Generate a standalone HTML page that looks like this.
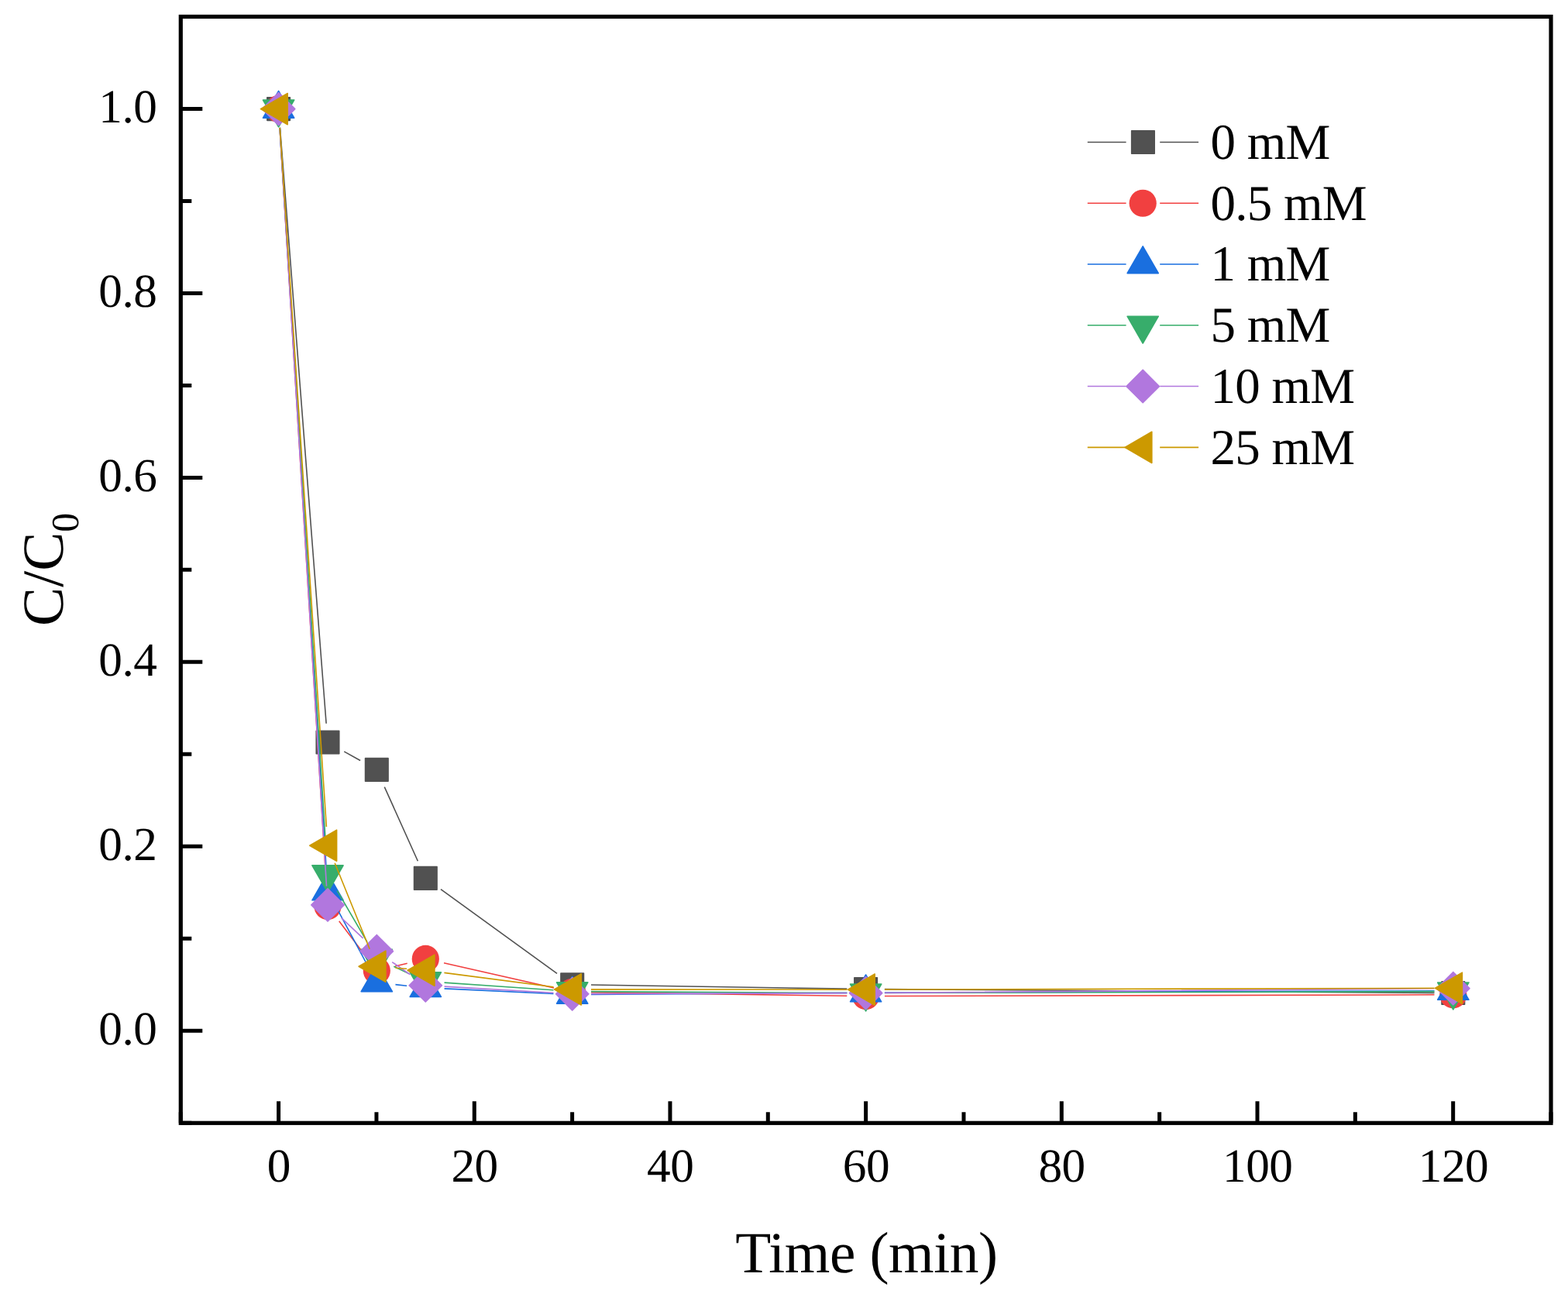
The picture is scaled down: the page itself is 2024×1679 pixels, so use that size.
<!DOCTYPE html>
<html lang="en"><head><meta charset="utf-8"><title>C/C0 vs Time</title>
<style>html,body{margin:0;padding:0;background:#fff;}body{width:2024px;height:1679px;overflow:hidden;}svg{display:block;}text{font-family:'Liberation Serif','Times New Roman',Times,serif;fill:#000;text-rendering:geometricPrecision;}</style>
</head><body>
<svg width="2024" height="1679" viewBox="0 0 2024 1679">
<rect x="0" y="0" width="2024" height="1679" fill="#ffffff"/>
<g id="series" fill="none">
<g>
<path d="M361.48 164.83L421.12 933.77M444.21 969.86L465.09 981.54M496.27 1015.56L539.33 1111.24M568.97 1147.66L719.03 1256.44M763 1271.07L1093.3 1276.13M1141.9 1276.66L1851.5 1281.34" stroke="#515151" stroke-width="1.6" fill="none"/>
<rect x="344.85" y="125.85" width="29.5" height="29.5" fill="#515151" stroke="#515151" stroke-width="1.6" stroke-linejoin="round"/>
<rect x="408.25" y="943.25" width="29.5" height="29.5" fill="#515151" stroke="#515151" stroke-width="1.6" stroke-linejoin="round"/>
<rect x="471.55" y="978.65" width="29.5" height="29.5" fill="#515151" stroke="#515151" stroke-width="1.6" stroke-linejoin="round"/>
<rect x="534.55" y="1118.65" width="29.5" height="29.5" fill="#515151" stroke="#515151" stroke-width="1.6" stroke-linejoin="round"/>
<rect x="723.95" y="1255.95" width="29.5" height="29.5" fill="#515151" stroke="#515151" stroke-width="1.6" stroke-linejoin="round"/>
<rect x="1102.85" y="1261.75" width="29.5" height="29.5" fill="#515151" stroke="#515151" stroke-width="1.6" stroke-linejoin="round"/>
<rect x="1861.05" y="1266.75" width="29.5" height="29.5" fill="#515151" stroke="#515151" stroke-width="1.6" stroke-linejoin="round"/>
</g>
<g>
<path d="M361.09 164.85L421.51 1145.25M437.7 1188.85L471.6 1233.45M509.9 1247.03L525.7 1243.17M573 1242.77L715 1274.93M763 1280.64L1093.3 1285.26M1141.9 1285.54L1851.5 1283.76" stroke="#F14040" stroke-width="1.6" fill="none"/>
<circle cx="359.6" cy="140.6" r="17.6" fill="#F14040"/>
<circle cx="423" cy="1169.5" r="17.6" fill="#F14040"/>
<circle cx="486.3" cy="1252.8" r="17.6" fill="#F14040"/>
<circle cx="549.3" cy="1237.4" r="17.6" fill="#F14040"/>
<circle cx="738.7" cy="1280.3" r="17.6" fill="#F14040"/>
<circle cx="1117.6" cy="1285.6" r="17.6" fill="#F14040"/>
<circle cx="1875.8" cy="1283.7" r="17.6" fill="#F14040"/>
</g>
<g>
<path d="M361.12 164.85L421.48 1125.95M434.49 1171.61L474.81 1246.69M510.46 1270.67L525.14 1272.23M573.57 1275.92L714.43 1282.43M763 1283.4L1093.3 1281.35M1141.9 1281.12L1851.5 1278.68" stroke="#1A6FDF" stroke-width="1.6" fill="none"/>
<polygon points="359.6,117.4 379.69,152.2 339.51,152.2" fill="#1A6FDF" stroke="#1A6FDF" stroke-width="1.6" stroke-linejoin="round"/>
<polygon points="423,1127 443.09,1161.8 402.91,1161.8" fill="#1A6FDF" stroke="#1A6FDF" stroke-width="1.6" stroke-linejoin="round"/>
<polygon points="486.3,1244.9 506.39,1279.7 466.21,1279.7" fill="#1A6FDF" stroke="#1A6FDF" stroke-width="1.6" stroke-linejoin="round"/>
<polygon points="549.3,1251.6 569.39,1286.4 529.21,1286.4" fill="#1A6FDF" stroke="#1A6FDF" stroke-width="1.6" stroke-linejoin="round"/>
<polygon points="738.7,1260.35 758.79,1295.15 718.61,1295.15" fill="#1A6FDF" stroke="#1A6FDF" stroke-width="1.6" stroke-linejoin="round"/>
<polygon points="1117.6,1258 1137.69,1292.8 1097.51,1292.8" fill="#1A6FDF" stroke="#1A6FDF" stroke-width="1.6" stroke-linejoin="round"/>
<polygon points="1875.8,1255.4 1895.89,1290.2 1855.71,1290.2" fill="#1A6FDF" stroke="#1A6FDF" stroke-width="1.6" stroke-linejoin="round"/>
</g>
<g>
<path d="M361.16 164.85L421.44 1104.25M435.25 1149.48L474.05 1215.92M508.29 1247.23L527.31 1256.17M573.54 1268.16L714.46 1277.79M763 1279.59L1093.3 1281.46M1141.9 1281.54L1851.5 1279.66" stroke="#37AD6B" stroke-width="1.6" fill="none"/>
<polygon points="359.6,163.8 379.69,129 339.51,129" fill="#37AD6B" stroke="#37AD6B" stroke-width="1.6" stroke-linejoin="round"/>
<polygon points="423,1151.7 443.09,1116.9 402.91,1116.9" fill="#37AD6B" stroke="#37AD6B" stroke-width="1.6" stroke-linejoin="round"/>
<polygon points="486.3,1260.1 506.39,1225.3 466.21,1225.3" fill="#37AD6B" stroke="#37AD6B" stroke-width="1.6" stroke-linejoin="round"/>
<polygon points="549.3,1289.7 569.39,1254.9 529.21,1254.9" fill="#37AD6B" stroke="#37AD6B" stroke-width="1.6" stroke-linejoin="round"/>
<polygon points="738.7,1302.65 758.79,1267.85 718.61,1267.85" fill="#37AD6B" stroke="#37AD6B" stroke-width="1.6" stroke-linejoin="round"/>
<polygon points="1117.6,1304.8 1137.69,1270 1097.51,1270" fill="#37AD6B" stroke="#37AD6B" stroke-width="1.6" stroke-linejoin="round"/>
<polygon points="1875.8,1302.8 1895.89,1268 1855.71,1268" fill="#37AD6B" stroke="#37AD6B" stroke-width="1.6" stroke-linejoin="round"/>
</g>
<g>
<path d="M361.1 164.85L421.5 1143.65M440.68 1184.57L468.62 1210.93M506.21 1241.54L529.39 1257.76M573.56 1273.11L714.44 1281.29M763 1282.63L1093.3 1281.67M1141.9 1281.41L1851.5 1275.79" stroke="#B177DE" stroke-width="1.6" fill="none"/>
<polygon points="359.6,119.45 380.75,140.6 359.6,161.75 338.45,140.6" fill="#B177DE" stroke="#B177DE" stroke-width="1.6" stroke-linejoin="round"/>
<polygon points="423,1146.75 444.15,1167.9 423,1189.05 401.85,1167.9" fill="#B177DE" stroke="#B177DE" stroke-width="1.6" stroke-linejoin="round"/>
<polygon points="486.3,1206.45 507.45,1227.6 486.3,1248.75 465.15,1227.6" fill="#B177DE" stroke="#B177DE" stroke-width="1.6" stroke-linejoin="round"/>
<polygon points="549.3,1250.55 570.45,1271.7 549.3,1292.85 528.15,1271.7" fill="#B177DE" stroke="#B177DE" stroke-width="1.6" stroke-linejoin="round"/>
<polygon points="738.7,1261.55 759.85,1282.7 738.7,1303.85 717.55,1282.7" fill="#B177DE" stroke="#B177DE" stroke-width="1.6" stroke-linejoin="round"/>
<polygon points="1117.6,1260.45 1138.75,1281.6 1117.6,1302.75 1096.45,1281.6" fill="#B177DE" stroke="#B177DE" stroke-width="1.6" stroke-linejoin="round"/>
<polygon points="1875.8,1254.45 1896.95,1275.6 1875.8,1296.75 1854.65,1275.6" fill="#B177DE" stroke="#B177DE" stroke-width="1.6" stroke-linejoin="round"/>
</g>
<g>
<path d="M361.22 164.85L421.38 1066.95M432.13 1113.72L477.17 1224.78M510.53 1249.18L525.07 1250.32M573.4 1255.34L714.6 1273.76M763 1276.91L1093.3 1277.09M1141.9 1277.04L1851.5 1275.26" stroke="#CC9900" stroke-width="1.6" fill="none"/>
<polygon points="336.4,140.6 371.2,120.51 371.2,160.69" fill="#CC9900" stroke="#CC9900" stroke-width="1.6" stroke-linejoin="round"/>
<polygon points="399.8,1091.2 434.6,1071.11 434.6,1111.29" fill="#CC9900" stroke="#CC9900" stroke-width="1.6" stroke-linejoin="round"/>
<polygon points="463.1,1247.3 497.9,1227.21 497.9,1267.39" fill="#CC9900" stroke="#CC9900" stroke-width="1.6" stroke-linejoin="round"/>
<polygon points="526.1,1252.2 560.9,1232.11 560.9,1272.29" fill="#CC9900" stroke="#CC9900" stroke-width="1.6" stroke-linejoin="round"/>
<polygon points="715.5,1276.9 750.3,1256.81 750.3,1296.99" fill="#CC9900" stroke="#CC9900" stroke-width="1.6" stroke-linejoin="round"/>
<polygon points="1094.4,1277.1 1129.2,1257.01 1129.2,1297.19" fill="#CC9900" stroke="#CC9900" stroke-width="1.6" stroke-linejoin="round"/>
<polygon points="1852.6,1275.2 1887.4,1255.11 1887.4,1295.29" fill="#CC9900" stroke="#CC9900" stroke-width="1.6" stroke-linejoin="round"/>
</g>
</g>
<g id="axes" stroke="#000" fill="none" stroke-linecap="butt">
<rect x="233.3" y="21.5" width="1768.7" height="1427.8" stroke-width="5.2"/>
<path d="M359.6 1449.3V1421.3M612.28 1449.3V1421.3M864.96 1449.3V1421.3M1117.64 1449.3V1421.3M1370.32 1449.3V1421.3M1623 1449.3V1421.3M1875.68 1449.3V1421.3M233.26 1449.3V1435.3M485.94 1449.3V1435.3M738.62 1449.3V1435.3M991.3 1449.3V1435.3M1243.98 1449.3V1435.3M1496.66 1449.3V1435.3M1749.34 1449.3V1435.3M2002.02 1449.3V1435.3M233.3 1330.2H261.3M233.3 1092.26H261.3M233.3 854.32H261.3M233.3 616.38H261.3M233.3 378.44H261.3M233.3 140.5H261.3M233.3 1449.17H247.3M233.3 1211.23H247.3M233.3 973.29H247.3M233.3 735.35H247.3M233.3 497.41H247.3M233.3 259.47H247.3M233.3 21.53H247.3" stroke-width="5.0"/>
</g>
<g id="xticklabels" font-size="61.3" letter-spacing="-0.5" text-anchor="middle">
<text x="359.9" y="1524.8">0</text>
<text x="612.58" y="1524.8">20</text>
<text x="865.26" y="1524.8">40</text>
<text x="1117.94" y="1524.8">60</text>
<text x="1370.62" y="1524.8">80</text>
<text x="1623.3" y="1524.8">100</text>
<text x="1875.98" y="1524.8">120</text>
</g>
<g id="yticklabels" font-size="61.3" letter-spacing="-0.5" text-anchor="end">
<text x="202.4" y="1347.9">0.0</text>
<text x="202.4" y="1109.96">0.2</text>
<text x="202.4" y="872.02">0.4</text>
<text x="202.4" y="634.08">0.6</text>
<text x="202.4" y="396.14">0.8</text>
<text x="202.4" y="158.2">1.0</text>
</g>
<text id="xtitle" x="1118.5" y="1642" font-size="75.3" letter-spacing="-0.4" text-anchor="middle">Time (min)</text>
<text id="ytitle" transform="translate(81 808) rotate(-90)" font-size="75.3">C/C<tspan dy="20" font-size="50">0</tspan></text>
<g id="legend">
<path d="M1403.8 183.45H1453.6M1497.2 183.45H1547.1" stroke="#515151" stroke-width="1.6" fill="none"/>
<rect x="1460.7" y="168.7" width="29.5" height="29.5" fill="#515151" stroke="#515151" stroke-width="1.6" stroke-linejoin="round"/>
<text x="1562.5" y="204.75" font-size="65" letter-spacing="-0.75">0 mM</text>
<path d="M1403.8 262.23H1453.6M1497.2 262.23H1547.1" stroke="#F14040" stroke-width="1.6" fill="none"/>
<circle cx="1475.2" cy="262.23" r="17.6" fill="#F14040"/>
<text x="1562.5" y="283.53" font-size="65" letter-spacing="-0.75">0.5 mM</text>
<path d="M1403.8 341.01H1453.6M1497.2 341.01H1547.1" stroke="#1A6FDF" stroke-width="1.6" fill="none"/>
<polygon points="1475.2,317.81 1495.29,352.61 1455.11,352.61" fill="#1A6FDF" stroke="#1A6FDF" stroke-width="1.6" stroke-linejoin="round"/>
<text x="1562.5" y="362.31" font-size="65" letter-spacing="-0.75">1 mM</text>
<path d="M1403.8 419.79H1453.6M1497.2 419.79H1547.1" stroke="#37AD6B" stroke-width="1.6" fill="none"/>
<polygon points="1475.2,442.99 1495.29,408.19 1455.11,408.19" fill="#37AD6B" stroke="#37AD6B" stroke-width="1.6" stroke-linejoin="round"/>
<text x="1562.5" y="441.09" font-size="65" letter-spacing="-0.75">5 mM</text>
<path d="M1403.8 498.57H1453.6M1497.2 498.57H1547.1" stroke="#B177DE" stroke-width="1.6" fill="none"/>
<polygon points="1475.2,477.42 1496.35,498.57 1475.2,519.72 1454.05,498.57" fill="#B177DE" stroke="#B177DE" stroke-width="1.6" stroke-linejoin="round"/>
<text x="1562.5" y="519.87" font-size="65" letter-spacing="-0.75">10 mM</text>
<path d="M1403.8 577.35H1453.6M1497.2 577.35H1547.1" stroke="#CC9900" stroke-width="1.6" fill="none"/>
<polygon points="1452,577.35 1486.8,557.26 1486.8,597.44" fill="#CC9900" stroke="#CC9900" stroke-width="1.6" stroke-linejoin="round"/>
<text x="1562.5" y="598.65" font-size="65" letter-spacing="-0.75">25 mM</text>
</g>
</svg>
</body></html>
